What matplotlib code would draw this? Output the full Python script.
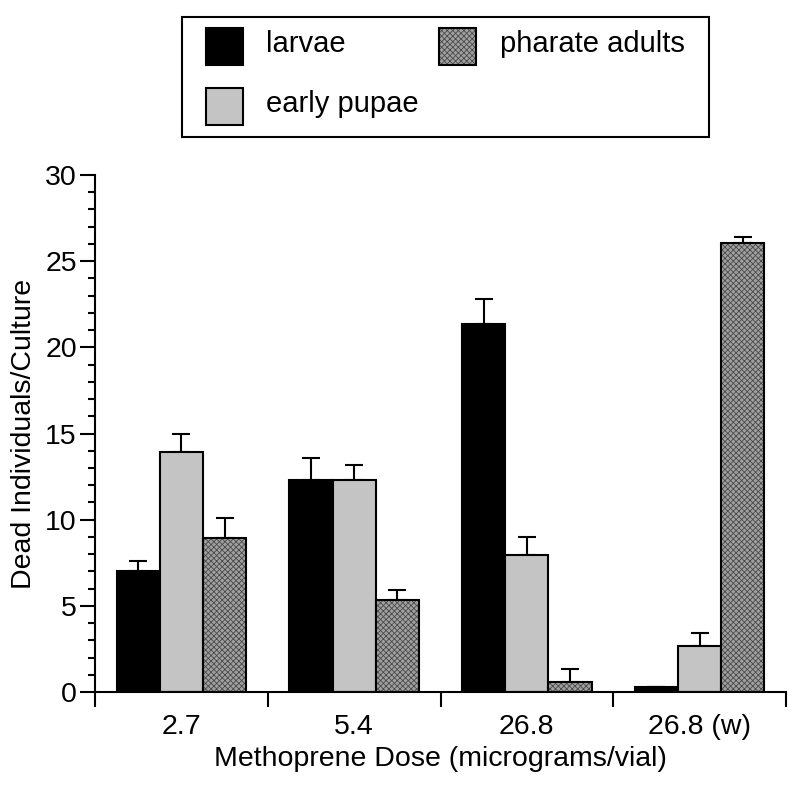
import matplotlib
matplotlib.use("Agg")
import matplotlib.pyplot as plt
import numpy as np
from matplotlib.patches import Rectangle
from matplotlib.ticker import MultipleLocator, FixedLocator, NullFormatter

plt.rcParams['font.family'] = ['Liberation Sans', 'DejaVu Sans']

categories = ["2.7", "5.4", "26.8", "26.8 (w)"]
series = ["larvae", "early pupae", "pharate adults"]
larvae = [7.02, 12.29, 21.36, 0.31]
larvae_err = [0.60, 1.30, 1.43, 0.0]
early_pupae = [13.95, 12.30, 7.95, 2.67]
early_pupae_err = [1.03, 0.87, 1.06, 0.73]
pharate = [8.96, 5.32, 0.56, 26.08]
pharate_err = [1.14, 0.60, 0.76, 0.34]

FS = 20.5
W, H = 800, 786

fig = plt.figure(figsize=(W/100, H/100), dpi=100)
ax = fig.add_axes([95/W, 1-692/H, (786-95)/W, (692-175)/H])

x = np.arange(len(categories))
w = 0.25
lw = 1.5

face = {"larvae": "black", "early pupae": "#c4c4c4", "pharate adults": "#a0a0a0"}
hatch = {"larvae": None, "early pupae": None, "pharate adults": "xxxxxx"}
vals = [larvae, early_pupae, pharate]
errs = [larvae_err, early_pupae_err, pharate_err]

plt.rcParams['hatch.linewidth'] = 0.6
for i, (name, v, e) in enumerate(zip(series, vals, errs)):
    pos = x + (i - 1) * w
    ax.errorbar(pos, v, yerr=[np.zeros(len(e)), e], fmt='none', ecolor='black',
                elinewidth=1.5, capsize=6.5, capthick=1.5, zorder=1)
    if hatch[name]:
        ax.bar(pos, v, width=w, color=face[name], edgecolor='#4a4a4a',
               hatch=hatch[name], linewidth=0, zorder=2)
        ax.bar(pos, v, width=w, fill=False, edgecolor='black', linewidth=lw, zorder=3)
    else:
        ax.bar(pos, v, width=w, color=face[name], edgecolor='black', linewidth=lw, zorder=2)

ax.set_xlim(-0.5, 3.5)
ax.set_ylim(0, 30)
for s in ['top', 'right']:
    ax.spines[s].set_visible(False)
for s in ['left', 'bottom']:
    ax.spines[s].set_linewidth(1.5)

ax.yaxis.set_major_locator(MultipleLocator(5))
ax.yaxis.set_minor_locator(MultipleLocator(1))
ax.tick_params(axis='y', which='major', length=11, width=1.5, labelsize=FS, pad=2)
ax.tick_params(axis='y', which='minor', length=5, width=1.5)

ax.xaxis.set_major_locator(FixedLocator([-0.5, 0.5, 1.5, 2.5, 3.5]))
ax.xaxis.set_major_formatter(NullFormatter())
ax.xaxis.set_minor_locator(FixedLocator(x))
ax.set_xticklabels(categories, minor=True)
ax.tick_params(axis='x', which='major', length=11, width=1.5)
ax.tick_params(axis='x', which='minor', length=0, labelsize=FS, pad=16)

ax.set_xlabel("Methoprene Dose (micrograms/vial)", fontsize=FS, labelpad=4)
ax.set_ylabel("Dead Individuals/Culture", fontsize=FS, labelpad=6)

# legend drawn in figure pixel coordinates (y measured from top)
def px(xp, yp):
    return xp / W, 1 - yp / H

def rect(x0, y0, x1, y1, **kw):
    fx, fy = px(x0, y1)
    fig.add_artist(Rectangle((fx, fy), (x1 - x0) / W, (y1 - y0) / H,
                             transform=fig.transFigure, **kw))

rect(182, 17, 709, 137, fill=False, edgecolor='black', linewidth=1.5)
leg_items = [("larvae", 206, 28, 266, 52),
             ("early pupae", 206, 88, 266, 112),
             ("pharate adults", 439, 28, 500, 52)]
for name, hx, hy, tx, ty in leg_items:
    if hatch[name]:
        rect(hx, hy, hx + 37, hy + 37, facecolor=face[name], edgecolor='#4a4a4a',
             hatch=hatch[name], linewidth=0)
        rect(hx, hy, hx + 37, hy + 37, fill=False, edgecolor='black', linewidth=lw)
    else:
        rect(hx, hy, hx + 37, hy + 37, facecolor=face[name], edgecolor='black', linewidth=lw)
    fx, fy = px(tx, ty)
    fig.text(fx, fy, name, fontsize=21, ha='left', va='baseline')

fig.savefig("out.png", dpi=100)
